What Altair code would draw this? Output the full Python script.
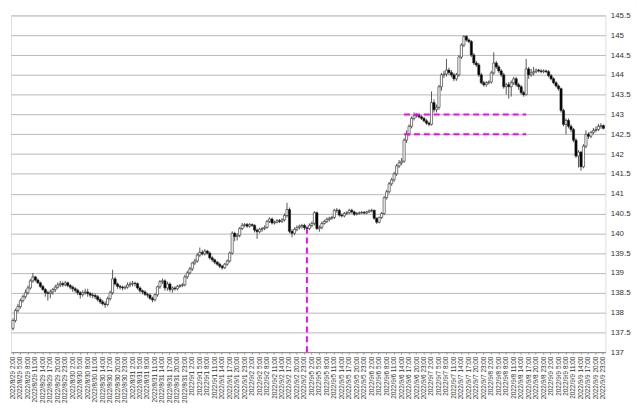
import altair as alt
import pandas as pd
from datetime import datetime, timedelta

first_open = 137.60
closes = [
    137.80, 138.05, 138.15, 138.30, 138.40, 138.50, 138.62, 138.80, 138.90, 138.82,
    138.75, 138.66, 138.58, 138.50, 138.48, 138.52, 138.58, 138.64, 138.70, 138.73,
    138.70, 138.75, 138.68, 138.64, 138.60, 138.56, 138.50, 138.45, 138.50, 138.52,
    138.48, 138.44, 138.43, 138.40, 138.33, 138.27, 138.22, 138.20, 138.35, 138.50,
    138.85, 138.72, 138.66, 138.64, 138.62, 138.64, 138.70, 138.72, 138.74, 138.73,
    138.62, 138.55, 138.52, 138.46, 138.44, 138.36, 138.32, 138.45, 138.65, 138.78,
    138.80, 138.62, 138.72, 138.58, 138.62, 138.60, 138.66, 138.68, 138.70, 138.90,
    139.00, 139.10, 139.25, 139.30, 139.45, 139.52, 139.48, 139.55, 139.50, 139.38,
    139.33, 139.27, 139.22, 139.17, 139.13, 139.22, 139.30, 139.50, 140.00, 139.92,
    139.95, 140.12, 140.20, 140.22, 140.18, 140.22, 140.20, 140.08, 140.04, 140.10,
    140.12, 140.15, 140.30, 140.36, 140.26, 140.28, 140.32, 140.30, 140.34, 140.45,
    140.60, 140.05, 140.00, 140.10, 140.15, 140.18, 140.20, 140.14, 140.12, 140.20,
    140.25, 140.52, 140.12, 140.15, 140.25, 140.30, 140.35, 140.38, 140.40, 140.58,
    140.58, 140.46, 140.44, 140.50, 140.52, 140.58, 140.54, 140.48, 140.50, 140.52,
    140.53, 140.51, 140.54, 140.57, 140.58, 140.38, 140.28, 140.40, 140.50, 140.90,
    141.05, 141.25, 141.35, 141.50, 141.70, 141.78, 141.82, 142.35, 142.50, 142.70,
    142.90, 142.97, 142.98, 142.94, 142.90, 142.84, 142.78, 142.75, 143.30, 143.12,
    143.18, 143.70, 144.00, 144.02, 144.12, 144.06, 144.00, 143.90, 144.00, 144.45,
    144.75, 144.97, 144.88, 144.84, 144.50, 144.30, 144.25, 144.00, 143.80, 143.75,
    143.80, 143.82, 144.05, 144.30, 144.20, 144.10, 144.00, 143.70, 143.75, 143.70,
    143.80, 143.90, 143.75, 143.70, 143.55, 143.50, 144.15, 144.00, 144.05, 144.08,
    144.12, 144.10, 144.08, 144.10, 144.08, 143.98, 143.90, 143.80, 143.72, 143.65,
    143.10, 142.75, 142.85, 142.70, 142.62, 142.35, 141.95, 142.05, 141.68, 142.20,
    142.50, 142.45, 142.55, 142.60, 142.62, 142.70, 142.72, 142.65,
]
highs = [
    137.85, 138.10, 138.22, 138.35, 138.45, 138.58, 138.68, 138.85, 139.00, 138.92,
    138.86, 138.78, 138.70, 138.62, 138.55, 138.58, 138.62, 138.70, 138.76, 138.80,
    138.78, 138.80, 138.78, 138.72, 138.68, 138.64, 138.60, 138.54, 138.56, 138.60,
    138.60, 138.52, 138.50, 138.48, 138.44, 138.38, 138.32, 138.28, 138.40, 138.55,
    139.08, 138.90, 138.76, 138.70, 138.68, 138.68, 138.76, 138.78, 138.80, 138.78,
    138.76, 138.66, 138.58, 138.56, 138.50, 138.48, 138.40, 138.48, 138.68, 138.82,
    138.86, 138.84, 138.78, 138.76, 138.66, 138.66, 138.70, 138.72, 138.74, 138.95,
    139.05, 139.15, 139.28, 139.36, 139.50, 139.64, 139.58, 139.60, 139.58, 139.54,
    139.42, 139.36, 139.30, 139.26, 139.20, 139.25, 139.34, 139.54, 140.05, 140.04,
    140.00, 140.16, 140.26, 140.26, 140.26, 140.26, 140.25, 140.23, 140.12, 140.14,
    140.16, 140.20, 140.34, 140.40, 140.40, 140.32, 140.36, 140.36, 140.38, 140.50,
    140.77, 140.65, 140.10, 140.15, 140.20, 140.22, 140.24, 140.24, 140.18, 140.25,
    140.30, 140.56, 140.55, 140.20, 140.30, 140.34, 140.40, 140.42, 140.44, 140.62,
    140.64, 140.62, 140.50, 140.54, 140.56, 140.62, 140.62, 140.57, 140.54, 140.55,
    140.56, 140.56, 140.57, 140.60, 140.62, 140.60, 140.40, 140.42, 140.54, 140.94,
    141.10, 141.30, 141.40, 141.55, 141.75, 141.85, 141.90, 142.40, 142.60, 142.75,
    142.95, 143.05, 143.03, 143.02, 142.98, 142.94, 142.88, 142.82, 143.58, 143.38,
    143.25, 143.75, 144.05, 144.10, 144.40, 144.18, 144.12, 144.05, 144.05, 144.50,
    144.80, 145.00, 145.00, 144.92, 144.88, 144.55, 144.35, 144.30, 144.05, 143.85,
    143.84, 143.86, 144.10, 144.57, 144.35, 144.25, 144.14, 144.05, 143.80, 143.82,
    143.86, 143.95, 143.95, 143.80, 143.74, 143.60, 144.40, 144.20, 144.15, 144.20,
    144.16, 144.15, 144.14, 144.14, 144.13, 144.12, 144.02, 143.94, 143.84, 143.76,
    143.68, 143.15, 142.90, 142.90, 142.75, 142.66, 142.40, 142.10, 142.08, 142.25,
    142.60, 142.55, 142.58, 142.66, 142.70, 142.76, 142.78, 142.75,
]
lows = [
    137.55, 137.75, 138.00, 138.10, 138.25, 138.35, 138.45, 138.58, 138.75, 138.78,
    138.72, 138.62, 138.55, 138.40, 138.30, 138.36, 138.45, 138.52, 138.60, 138.64,
    138.65, 138.66, 138.64, 138.58, 138.52, 138.50, 138.44, 138.35, 138.40, 138.45,
    138.40, 138.38, 138.36, 138.34, 138.28, 138.22, 138.18, 138.12, 138.16, 138.30,
    138.45, 138.68, 138.60, 138.58, 138.56, 138.58, 138.60, 138.64, 138.66, 138.66,
    138.58, 138.50, 138.46, 138.42, 138.38, 138.32, 138.26, 138.28, 138.40, 138.60,
    138.72, 138.55, 138.55, 138.52, 138.50, 138.55, 138.56, 138.62, 138.64, 138.66,
    138.85, 138.96, 139.05, 139.20, 139.26, 139.40, 139.44, 139.44, 139.46, 139.34,
    139.28, 139.22, 139.18, 139.12, 139.08, 139.10, 139.18, 139.26, 139.46, 139.80,
    139.82, 139.90, 140.08, 140.15, 140.14, 140.14, 140.16, 140.02, 139.86, 140.00,
    140.04, 140.08, 140.12, 140.26, 140.22, 140.22, 140.25, 140.26, 140.26, 140.30,
    140.40, 140.00, 139.90, 139.95, 140.05, 140.10, 140.12, 140.08, 140.05, 140.08,
    140.15, 140.20, 140.08, 140.04, 140.10, 140.22, 140.26, 140.30, 140.34, 140.36,
    140.52, 140.42, 140.40, 140.40, 140.46, 140.48, 140.50, 140.44, 140.45, 140.47,
    140.48, 140.48, 140.48, 140.51, 140.53, 140.34, 140.24, 140.25, 140.36, 140.46,
    140.85, 141.00, 141.20, 141.30, 141.45, 141.65, 141.72, 141.78, 142.28, 142.45,
    142.65, 142.85, 142.92, 142.90, 142.86, 142.80, 142.74, 142.70, 142.72, 143.05,
    143.05, 143.12, 143.60, 143.92, 143.96, 144.00, 143.94, 143.84, 143.85, 143.95,
    144.40, 144.70, 144.84, 144.80, 144.45, 144.25, 144.20, 143.95, 143.76, 143.70,
    143.70, 143.76, 143.78, 144.00, 144.15, 144.05, 143.95, 143.65, 143.50, 143.40,
    143.45, 143.74, 143.70, 143.62, 143.50, 143.45, 143.48, 143.90, 143.95, 143.98,
    144.04, 144.06, 144.04, 144.04, 144.04, 143.94, 143.86, 143.76, 143.68, 143.60,
    143.05, 142.70, 142.50, 142.65, 142.55, 142.30, 141.90, 141.66, 141.58, 141.64,
    142.15, 142.38, 142.40, 142.50, 142.55, 142.58, 142.64, 142.62,
]

# trading hours: week 1 from 8/29 2:00, week 2 from 9/5 0:00
week_starts = [datetime(2022, 8, 29, 2), datetime(2022, 9, 5, 0)]
week_lengths = [118, 120]
times = []
for s, n in zip(week_starts, week_lengths):
    times += [s + timedelta(hours=k) for k in range(n)]
labels = [f"{t.year}/{t.month}/{t.day} {t.hour}:00" for t in times]
tick_labels = labels[::3]
y_ticks = [137 + 0.5 * k for k in range(18)]

opens = [first_open] + closes[:-1]
df = pd.DataFrame({"t": labels, "o": opens, "h": highs, "l": lows, "c": closes})

# magenta guide lines
hline_levels = [143.0, 142.5]
hline_from = "2022/9/6 15:00"
hline_to = "2022/9/8 16:00"
vline_at = "2022/9/5 0:00"
vline_top = 140.1

hl = pd.DataFrame({"t": [hline_from] * 2, "t2": [hline_to] * 2, "y": hline_levels})
vl = pd.DataFrame({"t": [vline_at], "y": [137.0], "y2": [vline_top]})

xscale = alt.Scale(domain=labels, paddingInner=0.2, paddingOuter=0.4)
xaxis = alt.Axis(values=tick_labels, labelAngle=270, labelFontSize=6.5,
                 labelFont="Liberation Sans", labelColor="#333", labelOverlap=False,
                 labelBound=False, labelFlush=False,
                 ticks=True, tickSize=2, tickColor="#999", domainColor="#888",
                 labelPadding=2, title=None, grid=False)
yscale = alt.Scale(domain=[137, 145.5], nice=False, zero=False)
yaxis = alt.Axis(orient="right", values=y_ticks, format=".1~f", labelFontSize=8,
                 labelFont="Liberation Sans", labelColor="#333", ticks=False,
                 labelOverlap=False, labelFlush=False, labelBound=False,
                 domain=False, labelPadding=5, grid=True, gridColor="#b8b8b8",
                 gridWidth=1, title=None)


def X(field):
    return alt.X(field, sort=labels, scale=xscale, axis=xaxis)


def Y(field):
    return alt.Y(field, scale=yscale, axis=yaxis)


wicks = alt.Chart(df).mark_rule(color="#555", strokeWidth=1).encode(
    x=X("t:N"), y=Y("l:Q"), y2="h:Q")
bodies = alt.Chart(df).mark_bar(size=2.2, stroke="#222", strokeWidth=0.6).encode(
    x=X("t:N"), y=Y("o:Q"), y2="c:Q",
    fill=alt.condition("datum.c >= datum.o", alt.value("white"), alt.value("black")))
hrules = alt.Chart(hl).mark_rule(color="#ff00ff", strokeWidth=2, strokeDash=[6, 4]).encode(
    x=X("t:N"), x2="t2:N", y=Y("y:Q"))
vrule = alt.Chart(vl).mark_rule(color="#ff00ff", strokeWidth=2, strokeDash=[6, 4]).encode(
    x=X("t:N"), y=Y("y:Q"), y2="y2:Q")

chart = (wicks + bodies + hrules + vrule).properties(
    width=602, height=341,
    autosize=alt.AutoSizeParams(type="none"),
    padding={"left": 3, "top": 5, "right": 31, "bottom": 51},
).configure_view(stroke="#777", strokeWidth=1).configure(background="white")

chart.save("out.html", embed_options={"renderer": "svg", "actions": False})
